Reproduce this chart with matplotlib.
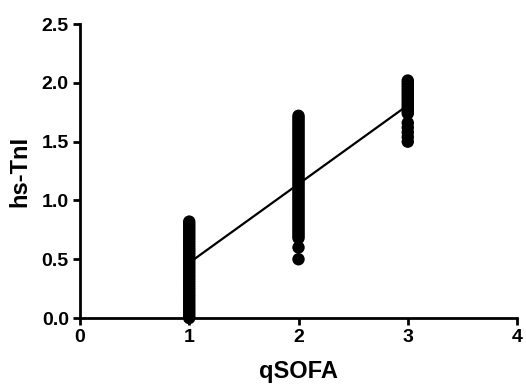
import matplotlib.pyplot as plt

plt.rcParams["font.family"] = ["Liberation Sans", "DejaVu Sans"]
plt.rcParams["font.weight"] = "bold"

# hs-TnI readings per qSOFA group
qsofa_1 = [0.00, 0.02, 0.04, 0.06, 0.08, 0.10, 0.12, 0.14, 0.16, 0.18, 0.20,
           0.22, 0.24, 0.26, 0.28, 0.30, 0.32, 0.34, 0.36, 0.38, 0.40, 0.42,
           0.44, 0.46, 0.48, 0.50, 0.52, 0.54, 0.56, 0.58, 0.60, 0.62, 0.64,
           0.66, 0.68, 0.70, 0.72, 0.74, 0.76, 0.78, 0.80, 0.82]
qsofa_2 = [0.50, 0.60, 0.68, 0.70, 0.72, 0.74, 0.76, 0.78, 0.80, 0.82, 0.84,
           0.86, 0.88, 0.90, 0.92, 0.94, 0.96, 0.98, 1.00, 1.02, 1.04, 1.06,
           1.08, 1.10, 1.12, 1.14, 1.16, 1.18, 1.20, 1.22, 1.24, 1.26, 1.28,
           1.30, 1.32, 1.34, 1.36, 1.38, 1.40, 1.42, 1.44, 1.46, 1.48, 1.50,
           1.52, 1.54, 1.56, 1.58, 1.60, 1.62, 1.64, 1.66, 1.68, 1.70, 1.72]
qsofa_3 = [1.50, 1.54, 1.58, 1.62, 1.66, 1.74, 1.76, 1.78, 1.80, 1.82, 1.84,
           1.86, 1.88, 1.90, 1.92, 1.94, 1.96, 1.98, 2.00, 2.02]

# regression line end points
fit_x = [1, 3]
fit_y = [0.47, 1.81]

xticks = [0, 1, 2, 3, 4]
yticks = [0.0, 0.5, 1.0, 1.5, 2.0, 2.5]

fig = plt.figure(figsize=(5.26, 3.89), dpi=100)
ax = fig.add_axes([0.152, 0.1825, 0.831, 0.7555])

for x, vals in [(1, qsofa_1), (2, qsofa_2), (3, qsofa_3)]:
    ax.scatter([x] * len(vals), vals, s=80, color="black", edgecolor="none",
               zorder=3, clip_on=False)

ax.plot(fit_x, fit_y, color="black", linewidth=1.6, zorder=2)

ax.set_xlim(0, 4)
ax.set_ylim(0, 2.5)
ax.set_xticks(xticks)
ax.set_yticks(yticks)
ax.set_xticklabels([str(t) for t in xticks])
ax.set_yticklabels([f"{t:.1f}" for t in yticks])

for side in ["top", "right"]:
    ax.spines[side].set_visible(False)
for side in ["left", "bottom"]:
    ax.spines[side].set_linewidth(2)
ax.tick_params(width=2, length=5, labelsize=14, pad=3)

ax.set_xlabel("qSOFA", fontsize=17, fontweight="bold", labelpad=10)
ax.set_ylabel("hs-TnI", fontsize=17, fontweight="bold", labelpad=7)

fig.savefig("out.png", dpi=100)
